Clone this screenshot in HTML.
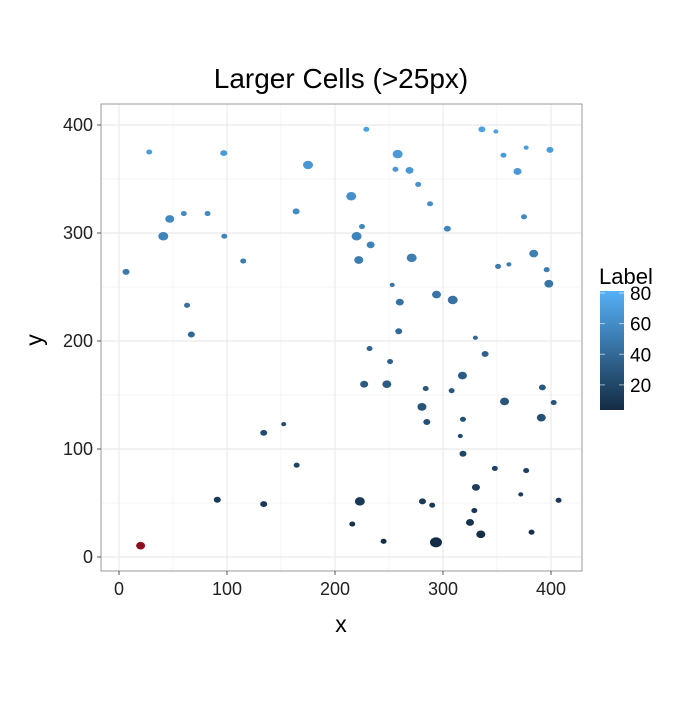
<!DOCTYPE html>
<html><head><meta charset="utf-8"><style>
body{margin:0;background:#fff;font-family:"Liberation Sans",sans-serif}
svg text{font-family:"Liberation Sans",sans-serif}
</style></head><body>
<svg id="chart" width="700" height="700" viewBox="0 0 700 700">
<rect width="700" height="700" fill="#fff"/>
<text x="341" y="88" font-size="28" text-anchor="middle">Larger Cells (&gt;25px)</text>
<g id="panel"></g>
<g id="marks"></g>
<g id="axes"></g>
<text x="341" y="632" font-size="23" text-anchor="middle">x</text>
<text x="42" y="340" font-size="23" text-anchor="middle" transform="rotate(-90 42 340)">y</text>
<text x="599" y="284" font-size="22">Label</text>
<defs><linearGradient id="lg" x1="0" y1="1" x2="0" y2="0"><stop offset="0" stop-color="#132B43"/><stop offset="1" stop-color="#56B1F7"/></linearGradient></defs>
<rect x="600" y="291" width="24" height="119" fill="url(#lg)"/>
<g id="legend"></g>
</svg>
<script>
const xs=[28,97,175,47,60,82,164,41,97.5,115,6.5,63,67,229,336,349,377,399,258,356,256,269,369,277,215,288,375,225,304,220,233,271,222,351,361,384,396,398,253,294,309,260,259,330,20,152.5,134,164.5,91,134,232,251,227,248,284,308,339,318,392,357,402.5,280.5,391,285,318.5,316,318.5,348,377,330.5,372,407,223,281,290,329,216,325,335,382,245,293.5];
const ys=[375,374,363,313,318,318,320,297,297,274,264,233,206,396,396,394,379,377,373,372,359,358,357,345,334,327,315,306,304,297,289,277,275,269,271,281,266,253,252,243,238,236,209,203,10.5,123,115,85,53,49,193,181,160,160,156,154,188,168,157,144,143,139,129,125,127.5,112,95.6,82,80,64.5,58,52.5,51.5,51.5,48,43,30.5,32,21,23,14.5,13.6];
const labels=[69,68,66,58,59,59,59,55,55,51,49,44,39,72,72,72,69,69,68,68,66,66,66,64,62,61,58,57,56,55,54,52,51,50,51,52,50,47,47,46,45,44,40,39,0,24,23,18,12,11,37,35,31,31,30,30,36,32,30,28,28,27,25,25,25,22,19,17,17,14,13,12,12,12,11,10,8,8,6,7,5,5];
const sizes=[3,3.5,5,4.5,3,3,3.5,5,3,3,3.5,3,3.5,3,3.5,2.5,2.5,3.5,5,3,3,4,4,3,5,3,3,3,3.5,5,4,5,4.5,3,2.5,4.5,3,4.5,2.5,4.5,5,4,3.5,2.5,4.5,2.5,3.5,3,3.5,3.5,3,3,4,4.5,3,3,3.5,4.5,3.5,4.5,3,4.5,4.5,3.5,3,2.5,3.5,3,3,4,2.5,3,5,3.5,3,3,3,4,4.5,3,3,6];
const xTicks=[0,100,200,300,400];
const yTicks=[0,100,200,300,400];
const legendTicks=[20,40,60,80];
const NS="http://www.w3.org/2000/svg";
const X=v=>119+v*1.08, Y=v=>557-v*1.08;
const LMIN=3.6,LMAX=81.3;
const LY=v=>410-(v-LMIN)/(LMAX-LMIN)*119;
function col(l){if(l<=0)return "#8B0F1E";const t=Math.max(0,Math.min(1,(l-LMIN)/(LMAX-LMIN)));
const a=[0x13,0x2B,0x43],b=[0x56,0xB1,0xF7];return "rgb("+a.map((c,i)=>Math.round(c+(b[i]-c)*t)).join(",")+")";}
function mk(tag,attrs,parent){const e=document.createElementNS(NS,tag);for(const k in attrs)e.setAttribute(k,attrs[k]);parent.appendChild(e);return e;}
const panel=document.getElementById('panel'),marks=document.getElementById('marks'),axes=document.getElementById('axes'),legend=document.getElementById('legend');
const bg=mk('rect',{x:101,y:104,width:481,height:467,fill:"#fff"},panel);


[50,150,250,350].forEach(v=>{mk('line',{x1:X(v),x2:X(v),y1:104,y2:571,stroke:"#f5f5f5","stroke-width":1},panel);mk('line',{x1:101,x2:582,y1:Y(v),y2:Y(v),stroke:"#f5f5f5","stroke-width":1},panel);});
xTicks.forEach(v=>{const g=mk('line',{x1:X(v),x2:X(v),y1:104,y2:571,stroke:"#ebebeb","stroke-width":1.2},panel);

});
yTicks.forEach(v=>{const g=mk('line',{x1:101,x2:582,y1:Y(v),y2:Y(v),stroke:"#ebebeb","stroke-width":1.2},panel);

});
for(let i=0;i<xs.length;i++){
const c=mk('ellipse',{cx:X(xs[i]),cy:Y(ys[i]),rx:sizes[i],ry:sizes[i]*0.85,fill:col(labels[i])},marks);

}
const br=mk('rect',{x:101,y:104,width:481,height:467,fill:"none",stroke:"#999","stroke-width":1},axes);


xTicks.forEach(v=>{mk('line',{x1:X(v),x2:X(v),y1:571,y2:575,stroke:"#555"},axes);
const t=mk('text',{x:X(v),y:595,"font-size":18,"text-anchor":"middle",fill:"#222"},axes);t.textContent=v;

});
yTicks.forEach(v=>{mk('line',{x1:97,x2:101,y1:Y(v),y2:Y(v),stroke:"#555"},axes);
const t=mk('text',{x:93,y:Y(v)+6,"font-size":18,"text-anchor":"end",fill:"#222"},axes);t.textContent=v;

});
legendTicks.forEach(v=>{mk('line',{x1:600,x2:605,y1:LY(v),y2:LY(v),stroke:"#fff","stroke-opacity":0.6},legend);mk('line',{x1:619,x2:624,y1:LY(v),y2:LY(v),stroke:"#fff","stroke-opacity":0.6},legend);
const t=mk('text',{x:630,y:LY(v)+7,"font-size":19,fill:"#000"},legend);t.textContent=v;

});
</script>
</body></html>
